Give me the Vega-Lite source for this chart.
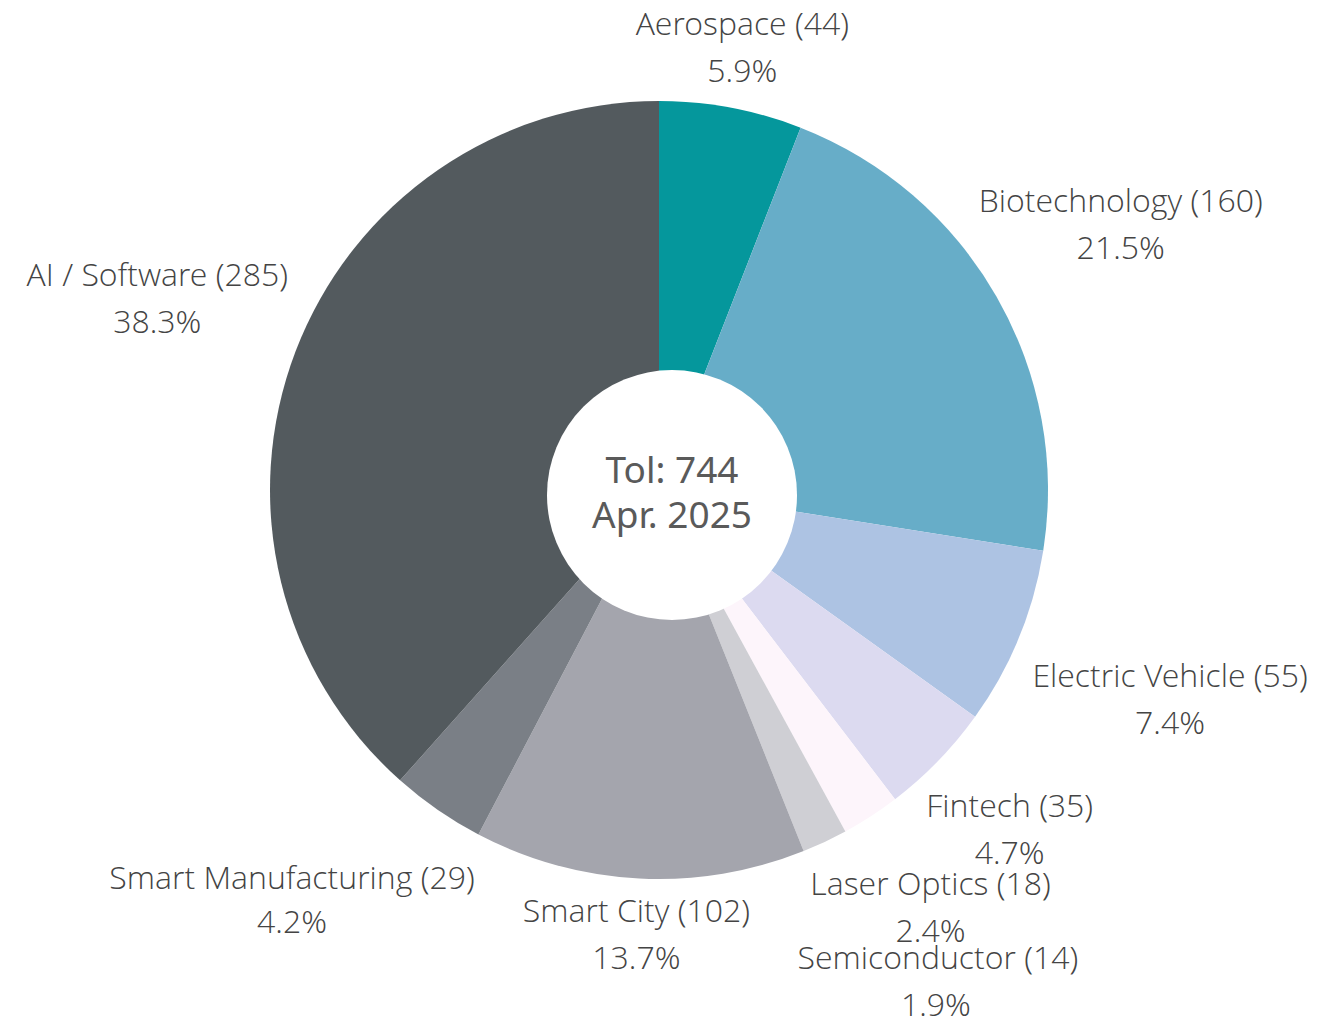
{
  "$schema": "https://vega.github.io/schema/vega-lite/v6.json",
  "autosize": {"type": "none"},
  "width": 1318,
  "height": 980,
  "padding": {"left": 0, "right": 19, "top": 0, "bottom": 48},
  "background": "white",
  "view": {"stroke": null},
  "datasets": {
    "sectors": [
      {"sector": "Aerospace", "count": 44, "name": "Aerospace (44)", "pct": "5.9%", "ord": 1},
      {"sector": "Biotechnology", "count": 160, "name": "Biotechnology (160)", "pct": "21.5%", "ord": 2},
      {"sector": "Electric Vehicle", "count": 55, "name": "Electric Vehicle (55)", "pct": "7.4%", "ord": 3},
      {"sector": "Fintech", "count": 35, "name": "Fintech (35)", "pct": "4.7%", "ord": 4},
      {"sector": "Laser Optics", "count": 18, "name": "Laser Optics (18)", "pct": "2.4%", "ord": 5},
      {"sector": "Semiconductor", "count": 14, "name": "Semiconductor (14)", "pct": "1.9%", "ord": 6},
      {"sector": "Smart City", "count": 102, "name": "Smart City (102)", "pct": "13.7%", "ord": 7},
      {"sector": "Smart Manufacturing", "count": 29, "name": "Smart Manufacturing (29)", "pct": "4.2%", "ord": 8},
      {"sector": "AI / Software", "count": 285, "name": "AI / Software (285)", "pct": "38.3%", "ord": 9}
    ],
    "center": [
      {"line1": "Tol: 744", "line2": "Apr. 2025"}
    ]
  },
  "layer": [
    {
      "data": {"name": "sectors"},
      "mark": {"type": "arc", "outerRadius": 389},
      "encoding": {
        "theta": {"field": "count", "type": "quantitative", "stack": true},
        "order": {"field": "ord", "type": "quantitative"},
        "color": {
          "field": "sector",
          "type": "nominal",
          "legend": null,
          "scale": {
            "domain": ["Aerospace", "Biotechnology", "Electric Vehicle", "Fintech", "Laser Optics", "Semiconductor", "Smart City", "Smart Manufacturing", "AI / Software"],
            "range": ["#05979c", "#67adc8", "#adc3e3", "#dcdaf0", "#fdf5fb", "#cfcfd4", "#a4a5ad", "#7a7f86", "#535a5e"]
          }
        }
      }
    },
    {
      "data": {"name": "sectors"},
      "mark": {
        "type": "text",
        "font": "Open Sans Light, Open Sans", "fontWeight": 300, "fontSize": 32, "color": "#444444",
        "align": "center", "baseline": "middle",
        "dx": {"expr": "datum.sector === 'Semiconductor' ? 47 : datum.sector === 'Smart Manufacturing' ? -66 : 0"},
        "dy": {"expr": "datum.sector === 'Smart Manufacturing' ? -46 : -23"},
        "radius": {"expr": "402 - 4 * cos(scale('theta', 0.5*datum.count_start + 0.5*datum.count_end)) + abs(sin(scale('theta', 0.5*datum.count_start + 0.5*datum.count_end))) * length(datum.name) * 7.0 + abs(cos(scale('theta', 0.5*datum.count_start + 0.5*datum.count_end))) * 34 + (datum.sector === 'Semiconductor' ? 54 : 0)"}
      },
      "encoding": {
        "theta": {"field": "count", "type": "quantitative", "stack": true},
        "order": {"field": "ord", "type": "quantitative"},
        "text": {"field": "name", "type": "nominal"}
      }
    },
    {
      "data": {"name": "sectors"},
      "mark": {
        "type": "text",
        "font": "Open Sans Light, Open Sans", "fontWeight": 300, "fontSize": 32, "color": "#444444",
        "align": "center", "baseline": "middle",
        "dx": {"expr": "datum.sector === 'Semiconductor' ? 45 : datum.sector === 'Smart Manufacturing' ? -66 : 0"},
        "dy": {"expr": "datum.sector === 'Smart Manufacturing' ? -2 : 24"},
        "radius": {"expr": "402 - 4 * cos(scale('theta', 0.5*datum.count_start + 0.5*datum.count_end)) + abs(sin(scale('theta', 0.5*datum.count_start + 0.5*datum.count_end))) * length(datum.name) * 7.0 + abs(cos(scale('theta', 0.5*datum.count_start + 0.5*datum.count_end))) * 34 + (datum.sector === 'Semiconductor' ? 54 : 0)"}
      },
      "encoding": {
        "theta": {"field": "count", "type": "quantitative", "stack": true},
        "order": {"field": "ord", "type": "quantitative"},
        "text": {"field": "pct", "type": "nominal"}
      }
    },
    {
      "data": {"name": "center"},
      "mark": {"type": "arc", "outerRadius": 125, "theta": 0, "theta2": 6.2832, "fill": "white", "xOffset": 13, "yOffset": 5},
      "encoding": {}
    },
    {
      "data": {"name": "center"},
      "mark": {"type": "text", "font": "Noto Sans", "fontSize": 37, "color": "#5a5a5a", "baseline": "middle", "dx": 13, "dy": -18},
      "encoding": {
        "text": {"field": "line1", "type": "nominal"}
      }
    },
    {
      "data": {"name": "center"},
      "mark": {"type": "text", "font": "Noto Sans", "fontSize": 37, "color": "#5a5a5a", "baseline": "middle", "dx": 13, "dy": 27},
      "encoding": {
        "text": {"field": "line2", "type": "nominal"}
      }
    }
  ]
}
